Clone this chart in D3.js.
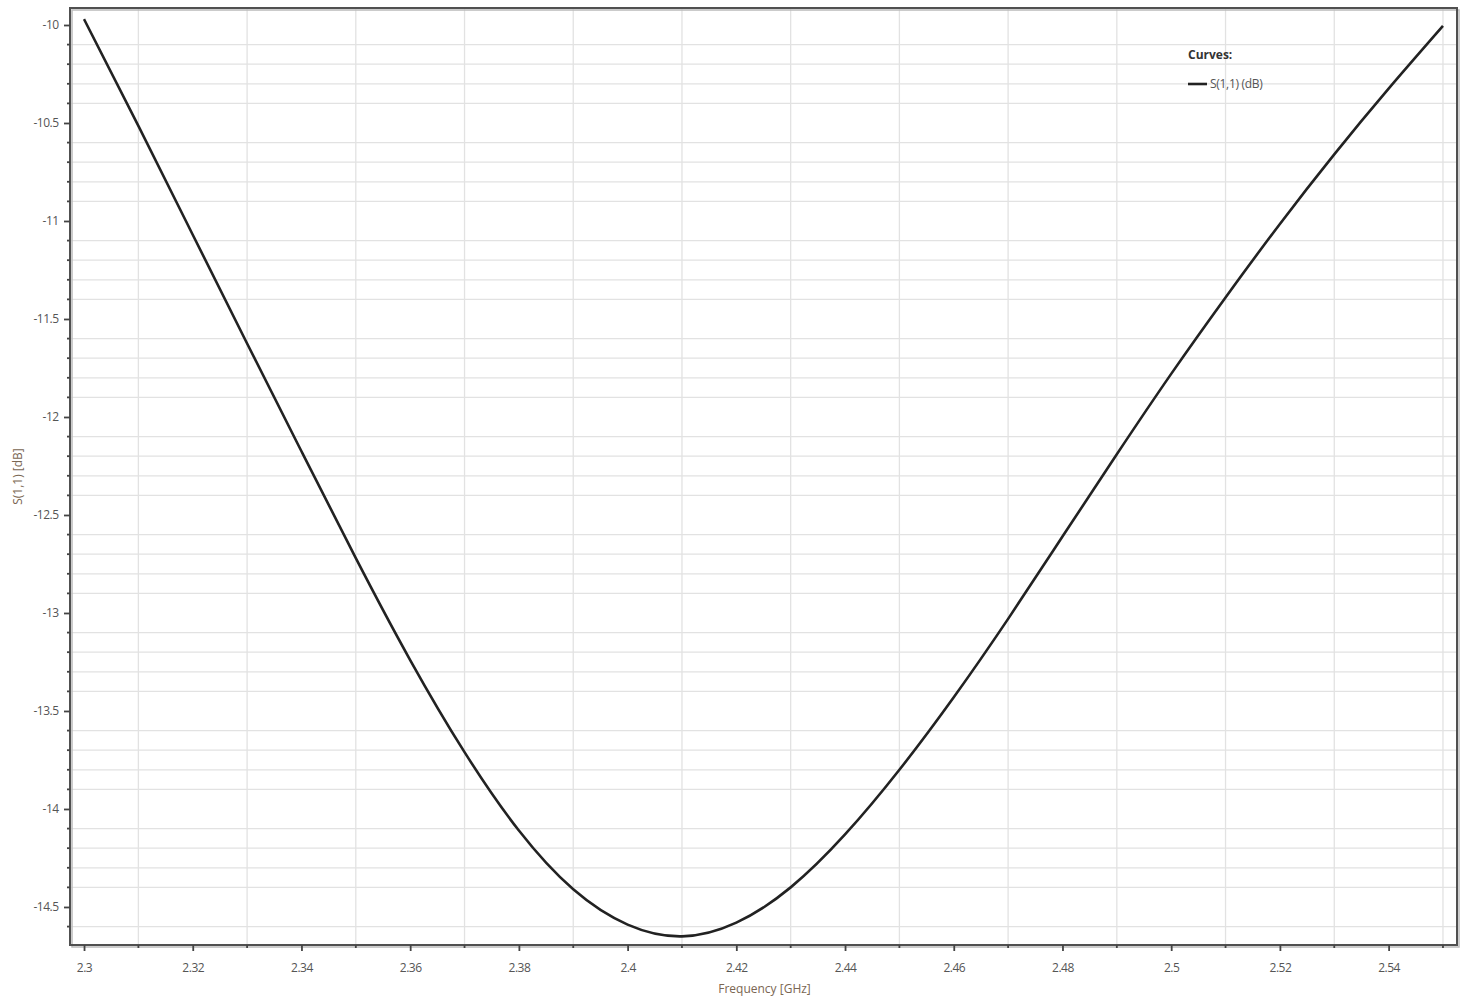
<!DOCTYPE html>
<html>
<head>
<meta charset="utf-8">
<script src="https://cdn.jsdelivr.net/npm/d3@7"></script>
<style>
  body { margin: 0; background: #fff; }
  svg { display: block; font-family: "Open Sans", "Noto Sans", sans-serif; }
</style>
</head>
<body>
<svg width="1469" height="999"></svg>
<script>
// S(1,1) sweep
const freq = [2.30, 2.31, 2.32, 2.33, 2.34, 2.35, 2.36, 2.37, 2.38, 2.39, 2.40, 2.41, 2.42,
              2.43, 2.44, 2.45, 2.46, 2.47, 2.48, 2.49, 2.50, 2.51, 2.52, 2.53, 2.54, 2.55];
const s11 = [-9.97, -10.515, -11.07, -11.625, -12.175, -12.72, -13.24, -13.71, -14.11, -14.41, -14.59, -14.65, -14.58,
             -14.40, -14.13, -13.80, -13.43, -13.03, -12.61, -12.19, -11.78, -11.39, -11.015, -10.66, -10.325, -10.005];

const xMajor = [2.30, 2.32, 2.34, 2.36, 2.38, 2.40, 2.42, 2.44, 2.46, 2.48, 2.50, 2.52, 2.54];
const xMinor = [2.31, 2.33, 2.35, 2.37, 2.39, 2.41, 2.43, 2.45, 2.47, 2.49, 2.51, 2.53, 2.55];
const yMajor = [-10, -10.5, -11, -11.5, -12, -12.5, -13, -13.5, -14, -14.5];
const yMinor = [-10.1, -10.2, -10.3, -10.4, -10.6, -10.7, -10.8, -10.9, -11.1, -11.2, -11.3, -11.4,
                -11.6, -11.7, -11.8, -11.9, -12.1, -12.2, -12.3, -12.4, -12.6, -12.7, -12.8, -12.9,
                -13.1, -13.2, -13.3, -13.4, -13.6, -13.7, -13.8, -13.9, -14.1, -14.2, -14.3, -14.4,
                -14.6];

const seriesName = "S(1,1) (dB)";

const svg = d3.select("svg");
const pLeft = 70, pTop = 8, pRight = 1457, pBottom = 945;

const x = d3.scaleLinear().domain([2.29742, 2.55258]).range([pLeft, pRight]);
const y = d3.scaleLinear().domain([-9.9133, -14.694]).range([pTop, pBottom]);

// grid (minor positions only, like the original)
const grid = svg.append("g").attr("stroke", "#e2e2e2").attr("stroke-width", 1.3);
grid.selectAll(".vg").data(xMinor).join("line")
  .attr("x1", d => x(d)).attr("x2", d => x(d))
  .attr("y1", pTop).attr("y2", pBottom);
grid.selectAll(".hg").data(yMinor).join("line")
  .attr("x1", pLeft).attr("x2", pRight)
  .attr("y1", d => y(d)).attr("y2", d => y(d));

// frame with a faint shadow
svg.append("rect")
  .attr("x", pLeft + 2).attr("y", pTop + 2)
  .attr("width", pRight - pLeft).attr("height", pBottom - pTop)
  .attr("fill", "none").attr("stroke", "#bbb").attr("stroke-width", 1.5);
svg.append("rect")
  .attr("x", pLeft).attr("y", pTop)
  .attr("width", pRight - pLeft).attr("height", pBottom - pTop)
  .attr("fill", "none").attr("stroke", "#505050").attr("stroke-width", 2);

// x axis
const xAxis = svg.append("g").attr("transform", `translate(0,${pBottom})`);
xAxis.call(d3.axisBottom(x).tickValues(xMajor).tickSize(6).tickSizeOuter(0)
  .tickFormat(d => String(+d.toFixed(2))));
xAxis.append("g").selectAll("line").data(xMinor).join("line")
  .attr("x1", d => x(d)).attr("x2", d => x(d)).attr("y1", 0).attr("y2", 3)
  .attr("stroke", "#444").attr("stroke-width", 1.8);

// y axis
const yAxis = svg.append("g").attr("transform", `translate(${pLeft},0)`);
yAxis.call(d3.axisLeft(y).tickValues(yMajor).tickSize(6).tickSizeOuter(0)
  .tickFormat(d => String(d)));
yAxis.append("g").selectAll("line").data(yMinor).join("line")
  .attr("x1", 0).attr("x2", -3).attr("y1", d => y(d)).attr("y2", d => y(d))
  .attr("stroke", "#444").attr("stroke-width", 1.8);

svg.selectAll(".domain").remove();
svg.selectAll(".tick line").attr("stroke", "#444").attr("stroke-width", 1.8);
svg.selectAll(".tick text").attr("fill", "#555").attr("font-size", 12)
  .attr("font-family", "'Open Sans', sans-serif").style("letter-spacing", "-0.5px");
xAxis.selectAll(".tick text").attr("dy", "1.5em");
yAxis.selectAll(".tick text").attr("dx", "-0.2em");

// axis titles
svg.append("text")
  .attr("x", (x(2.3) + x(2.55)) / 2 + 1).attr("y", 993)
  .attr("text-anchor", "middle").attr("font-size", 12).attr("fill", "#7a6652")
  .text("Frequency [GHz]");
svg.append("text")
  .attr("transform", `translate(22,${(pTop + pBottom) / 2}) rotate(-90)`)
  .attr("text-anchor", "middle").attr("font-size", 12).attr("fill", "#7a6652")
  .text("S(1,1) [dB]");

// curve
const pts = freq.map((f, i) => [f, s11[i]]);
svg.append("path")
  .datum(pts)
  .attr("fill", "none")
  .attr("stroke", "#222")
  .attr("stroke-width", 2.6)
  .attr("d", d3.line().x(d => x(d[0])).y(d => y(d[1])).curve(d3.curveNatural));

// legend
const lg = svg.append("g").attr("transform", "translate(1188,0)");
lg.append("text").attr("x", 0).attr("y", 59).attr("font-size", 12).attr("font-weight", "bold")
  .attr("fill", "#333").text("Curves:");
lg.append("line").attr("x1", 0).attr("x2", 19).attr("y1", 84).attr("y2", 84)
  .attr("stroke", "#222").attr("stroke-width", 2.6);
lg.append("text").attr("x", 22).attr("y", 88).attr("font-size", 12).attr("fill", "#555")
  .style("letter-spacing", "-0.3px")
  .text(seriesName);
</script>
</body>
</html>
